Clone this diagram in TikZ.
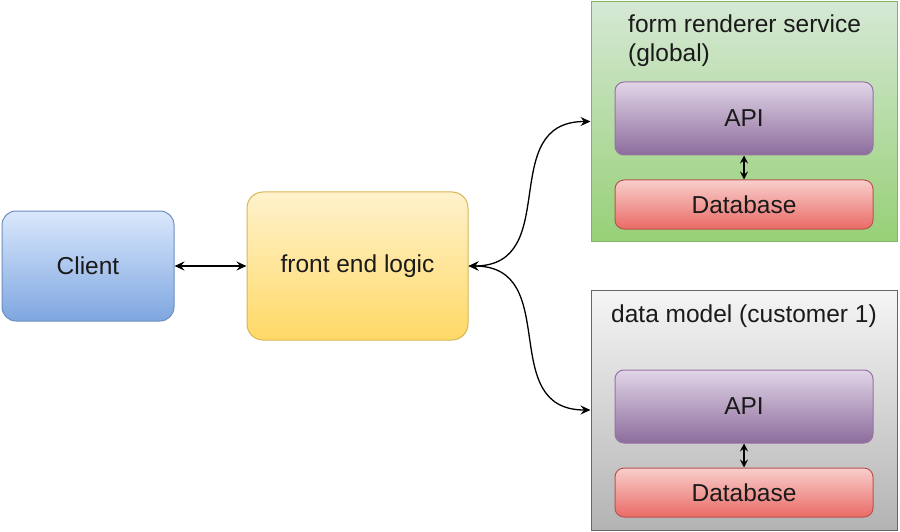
\documentclass[tikz,border=0pt]{standalone}
\usepackage{fontspec}
\setmainfont{Liberation Sans}
\usetikzlibrary{arrows.meta,shadings}
\definecolor{cliT}{HTML}{DAE8FC}\definecolor{cliB}{HTML}{7EA6E0}\definecolor{cliD}{HTML}{6C8EBF}
\definecolor{feT}{HTML}{FFF2CC}\definecolor{feB}{HTML}{FFD966}\definecolor{feD}{HTML}{D6B656}
\definecolor{grT}{HTML}{D5E8D4}\definecolor{grB}{HTML}{97D077}\definecolor{grD}{HTML}{82B366}
\definecolor{gyT}{HTML}{F5F5F5}\definecolor{gyB}{HTML}{B3B3B3}\definecolor{gyD}{HTML}{666666}
\definecolor{apT}{HTML}{E1D5E7}\definecolor{apB}{HTML}{8C6C9C}\definecolor{apD}{HTML}{9673A6}
\definecolor{dbT}{HTML}{F8CECC}\definecolor{dbB}{HTML}{EA6B66}\definecolor{dbD}{HTML}{B85450}
\definecolor{txt}{HTML}{1A1A1A}
\tikzset{
  box/.style={inner sep=0pt, text=txt, font=\fontsize{24.5}{29}\selectfont, line width=1pt},
  clientbox/.style={box, rounded corners=14pt, draw=cliD, top color=cliT, bottom color=cliB, minimum width=172pt, minimum height=110pt},
  febox/.style={box, rounded corners=16pt, draw=feD, top color=feT, bottom color=feB, minimum width=221pt, minimum height=148pt},
  greenbox/.style={box, draw=grD, top color=grT, bottom color=grB, minimum width=306pt, minimum height=239pt},
  graybox/.style={box, draw=gyD, top color=gyT, bottom color=gyB, minimum width=306pt, minimum height=240pt},
  apibox/.style={box, rounded corners=9pt, draw=apD, top color=apT, bottom color=apB, minimum width=258pt, minimum height=73pt},
  dbbox/.style={box, rounded corners=9pt, draw=dbD, top color=dbT, bottom color=dbB, minimum width=258pt, minimum height=49pt},
  title/.style={inner sep=0pt, text=txt, font=\fontsize{24.5}{29}\selectfont},
  conn/.style={line width=1.3pt, black, {Stealth[length=10pt,width=9pt,inset=3.5pt]}-{Stealth[length=10pt,width=9pt,inset=3.5pt]}},
  smallconn/.style={line width=1.3pt, black, {Stealth[length=8pt,width=8pt,inset=3pt]}-{Stealth[length=8pt,width=8pt,inset=3pt]}}
}
\begin{document}
\begin{tikzpicture}[x=1pt,y=-1pt]
\useasboundingbox (0,0) rectangle (900,532);
\node[clientbox] (client) at (88,266) {Client};
\node[febox] (front) at (357.5,266) {front end logic};
\node[greenbox] (green) at (744,121.5) {};
\node[title, anchor=west, align=left] (gtitle) at (628,40.5) {form renderer service\\(global)};
\node[apibox] (apiA) at (744,118.5) {API};
\node[dbbox] (dbA) at (744,204.5) {Database};
\node[graybox] (gray) at (744,410) {};
\node[title] (ytitle) at (744,316) {data model (customer 1)};
\node[apibox] (apiB) at (744,406.5) {API};
\node[dbbox] (dbB) at (744,492.5) {Database};
\draw[conn] (client.east) -- (front.west);
\draw[conn] (front.east) .. controls +(95,0) and +(-95,0) .. (green.west);
\draw[conn] (front.east) .. controls +(95,0) and +(-95,0) .. (gray.west);
\draw[smallconn] (apiA.south) -- (dbA.north);
\draw[smallconn] (apiB.south) -- (dbB.north);
\end{tikzpicture}
\end{document}
